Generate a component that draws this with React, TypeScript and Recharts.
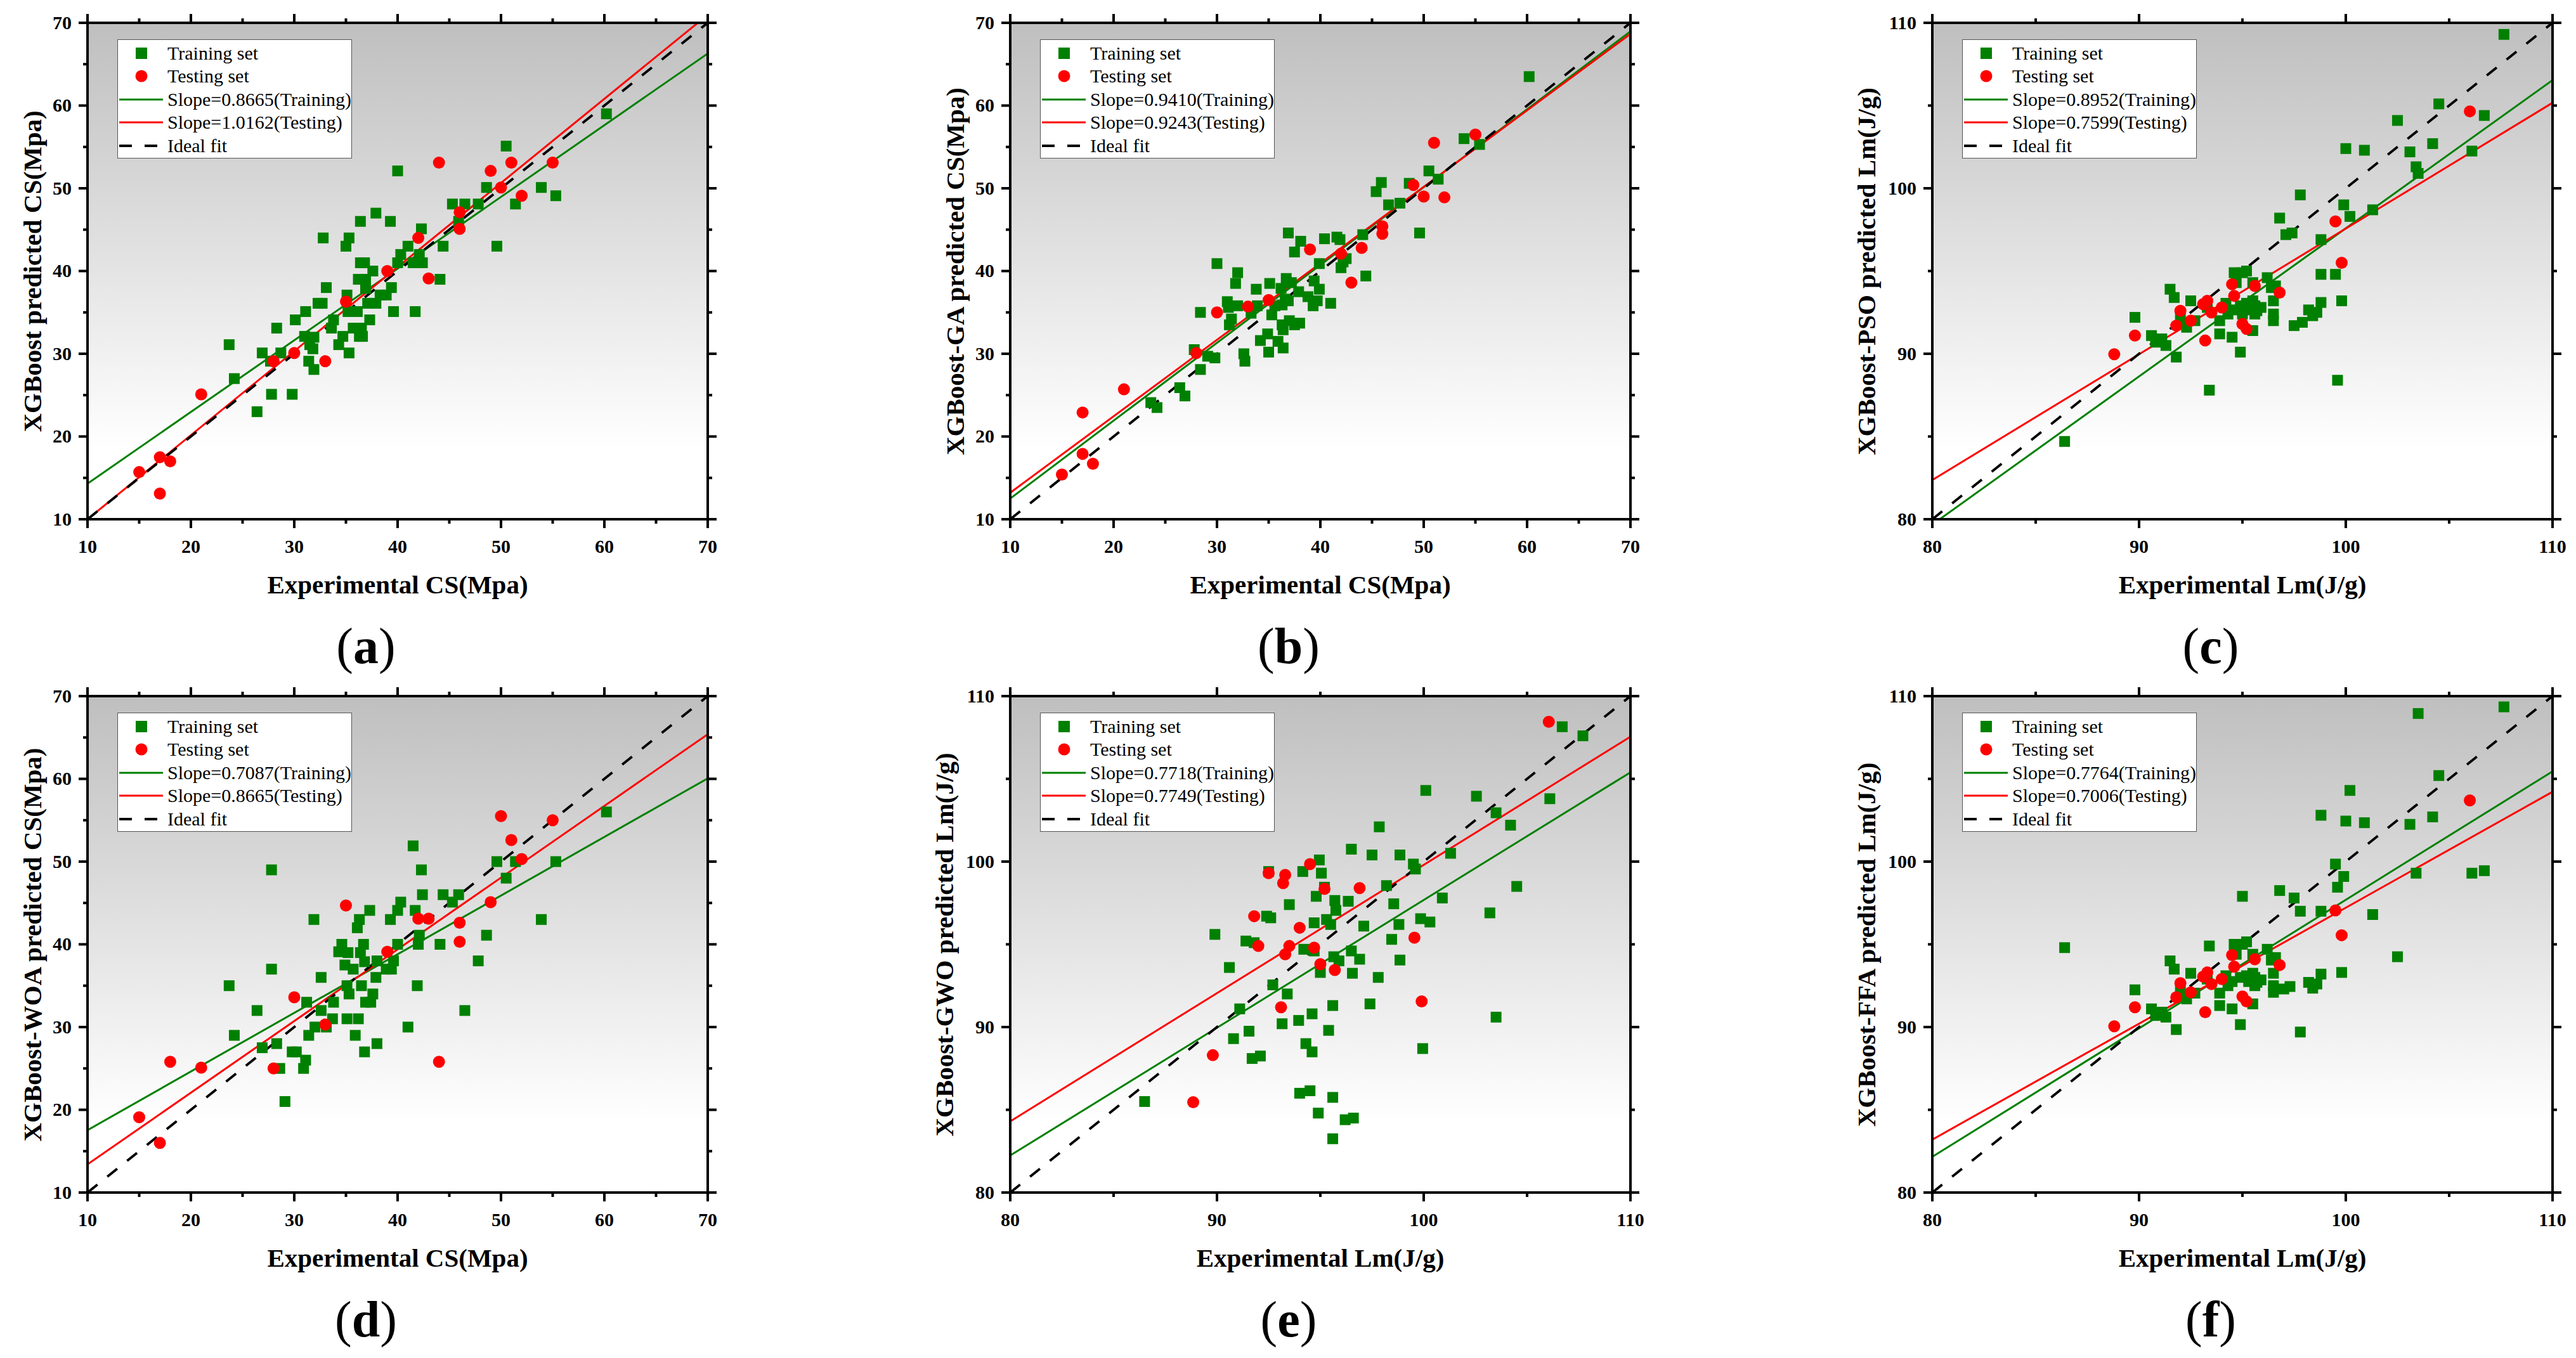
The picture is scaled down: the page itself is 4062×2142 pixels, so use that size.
import React from "react";
import { ComposedChart, Scatter, Line, XAxis, YAxis, CartesianGrid } from "recharts";

type Pt = [number, number];

const csTicks = [10, 15, 20, 25, 30, 35, 40, 45, 50, 55, 60, 65, 70];
const lmTicks = [80, 85, 90, 95, 100, 105, 110];

// (a) XGBoost
const trainA: Pt[] = [
  [23.7, 31.1], [24.2, 27.0], [26.4, 23.0], [26.9, 30.1], [27.8, 25.1], [27.7, 29.1], [28.3, 33.1], [28.7, 30.1],
  [29.8, 25.1], [30.1, 34.1], [31.0, 32.1], [31.1, 35.1], [31.4, 29.1], [31.5, 31.1], [31.8, 30.6], [31.9, 32.0],
  [31.9, 28.1], [32.3, 36.1], [32.7, 36.1], [32.8, 44.0], [33.1, 38.0], [33.6, 33.1], [33.8, 34.1], [34.3, 31.1],
  [34.7, 32.1], [35.0, 43.0], [35.3, 44.0], [35.1, 37.1], [35.3, 30.1], [35.2, 35.1], [35.7, 33.1], [36.1, 35.1],
  [36.2, 39.0], [36.3, 32.1], [36.4, 46.0], [36.4, 41.0], [36.5, 33.1], [36.6, 32.1], [36.8, 41.0], [36.9, 39.0],
  [36.9, 37.9], [37.1, 36.1], [37.3, 34.1], [37.6, 40.0], [37.9, 36.1], [37.9, 47.0], [38.3, 37.1], [38.9, 37.1],
  [39.3, 46.0], [39.4, 38.0], [39.6, 35.1], [40.0, 52.1], [40.0, 41.0], [40.3, 42.0], [41.0, 43.0], [41.5, 41.0],
  [41.7, 35.1], [42.1, 42.0], [42.3, 45.1], [42.4, 41.0], [44.1, 39.0], [44.4, 43.0], [45.3, 48.1], [45.9, 46.0],
  [46.5, 48.1], [47.8, 48.1], [48.6, 50.1], [49.6, 43.0], [50.5, 55.1], [51.4, 48.1], [53.9, 50.1], [55.3, 49.1],
  [60.2, 59.0],
];
const testA: Pt[] = [
  [15, 15.7], [17, 17.5], [17, 13.1], [18, 17.0], [21, 25.1], [28, 29.1], [30, 30.1], [33, 29.1], [35, 36.3],
  [39, 40.0], [42, 44.0], [43, 39.1], [44, 53.1], [46, 47.1], [46, 45.1], [49, 52.1], [50, 50.1], [51, 53.1],
  [52, 49.1], [55, 53.1],
];
const slopesA = [0.8665, 1.0162];
const startsA = [14.3, 10.0];

// (b) XGBoost-GA
const trainB: Pt[] = [
  [23.6, 24.1], [24.2, 23.5], [26.4, 25.9], [26.9, 24.9], [27.8, 30.5], [28.4, 35.0], [28.4, 28.1], [29.1, 29.7],
  [29.8, 29.5], [30.0, 40.9], [31.0, 36.3], [31.2, 33.5], [31.4, 34.2], [31.1, 35.6], [31.8, 38.5], [32.0, 39.8],
  [32.0, 35.8], [32.6, 30.0], [32.7, 29.1], [33.3, 34.9], [33.8, 37.8], [33.9, 35.8], [34.2, 31.6], [34.9, 32.4],
  [35.0, 30.2], [35.1, 38.5], [35.3, 34.7], [35.6, 35.8], [35.9, 31.5], [36.2, 37.9], [36.3, 35.9], [36.3, 33.5],
  [36.4, 32.9], [36.4, 30.7], [36.6, 36.6], [36.7, 39.1], [36.9, 44.6], [37.0, 34.0], [36.9, 36.4], [37.2, 38.6],
  [37.5, 42.3], [37.5, 33.5], [38.0, 33.7], [37.9, 37.5], [38.1, 43.6], [38.8, 36.9], [39.3, 35.8], [39.4, 38.8],
  [39.7, 36.4], [39.9, 37.8], [39.9, 40.9], [40.4, 43.9], [41.0, 36.1], [41.6, 44.1], [42.0, 40.4], [41.9, 43.8],
  [42.2, 41.1], [42.5, 41.5], [44.1, 44.4], [44.4, 39.4], [45.4, 49.6], [45.9, 50.7], [46.6, 48.0], [47.7, 48.2],
  [48.6, 50.6], [49.6, 44.6], [50.5, 52.1], [51.4, 51.1], [53.9, 56.0], [55.4, 55.3], [60.2, 63.5],
];
const testB: Pt[] = [
  [15, 15.4], [17, 22.9], [17, 17.9], [18, 16.7], [21, 25.7], [28, 30.1], [30, 35.0], [33, 35.7], [35, 36.5],
  [39, 42.6], [42, 42.1], [43, 38.6], [44, 42.8], [46, 45.4], [46, 44.5], [49, 50.4], [50, 49.0], [51, 55.5],
  [52, 48.9], [55, 56.5],
];
const slopesB = [0.941, 0.9243];
const startsB = [12.5, 13.2];

// (c) XGBoost-PSO
const trainC: Pt[] = [
  [86.4, 84.7], [89.8, 92.2], [90.6, 91.1], [90.8, 90.7], [91.1, 90.9], [91.3, 90.5], [91.5, 93.9], [91.7, 93.4],
  [91.8, 89.8], [92.0, 92.2], [92.3, 91.6], [92.5, 93.2], [92.7, 92.0], [93.4, 87.8], [93.3, 92.8], [93.9, 92.0],
  [93.9, 91.2], [94.2, 93.05], [94.3, 92.4], [94.5, 91.0], [94.5, 92.65], [94.6, 94.9], [94.7, 94.3], [94.9, 92.9],
  [94.9, 90.1], [95.0, 92.4], [95.0, 94.9], [95.2, 95.0], [95.2, 93.05], [95.3, 92.65], [95.4, 92.9], [95.5, 93.2],
  [95.5, 94.3], [95.5, 91.4], [95.6, 92.4], [95.6, 92.9], [95.7, 92.6], [95.9, 92.8], [96.2, 94.6], [96.4, 94.0],
  [96.5, 93.2], [96.5, 92.4], [96.5, 92.0], [96.6, 94.1], [96.8, 98.2], [97.1, 97.2], [97.4, 97.3], [97.5, 91.7],
  [97.8, 99.6], [97.9, 91.9], [98.2, 92.65], [98.4, 92.3], [98.6, 92.5], [98.8, 94.8], [98.8, 96.9], [98.8, 93.1],
  [99.5, 94.8], [99.6, 88.4], [99.8, 93.2], [99.9, 99.0], [100.0, 102.4], [100.2, 98.3], [100.9, 102.3],
  [101.3, 98.7], [102.5, 104.1], [103.1, 102.2], [103.4, 101.3], [103.5, 100.9], [104.2, 102.7], [104.5, 105.1],
  [106.1, 102.25], [106.7, 104.4], [107.65, 109.3],
];
const testC: Pt[] = [
  [88.8, 89.97], [89.8, 91.1], [91.8, 91.7], [92.0, 92.6], [92.5, 92.0], [93.1, 93.0], [93.3, 93.2], [93.2, 90.8],
  [93.5, 92.5], [94.0, 92.8], [94.5, 94.2], [94.6, 93.5], [95.0, 91.8], [95.2, 91.5], [95.6, 94.1], [96.8, 93.7],
  [99.5, 98.0], [99.8, 95.5], [106.0, 104.65],
];
const slopesC = [0.8952, 0.7599];
const startsC = [79.68, 82.37];

// (d) XGBoost-WOA
const trainD: Pt[] = [
  [23.7, 35.0], [24.2, 29.0], [26.4, 32.0], [26.9, 27.5], [27.8, 49.0], [27.8, 37.0], [28.3, 28.0], [28.6, 25.0],
  [29.1, 21.0], [29.8, 27.0], [30.2, 27.0], [30.9, 25.0], [31.1, 26.0], [31.2, 33.0], [31.4, 29.0], [31.9, 43.0],
  [32.0, 30.0], [32.6, 36.0], [32.6, 32.0], [33.1, 30.0], [33.7, 31.0], [33.8, 33.0], [34.3, 39.1], [34.6, 40.0],
  [34.9, 37.5], [35.1, 35.0], [35.1, 31.0], [35.2, 39.0], [35.3, 34.0], [35.7, 37.0], [35.9, 29.0], [36.1, 42.0],
  [36.2, 31.0], [36.3, 43.0], [36.4, 39.0], [36.5, 35.0], [36.7, 40.0], [36.8, 37.9], [36.8, 27.0], [36.9, 33.0],
  [37.3, 44.1], [37.4, 33.0], [37.6, 34.0], [37.9, 36.0], [38.0, 38.0], [38.0, 28.0], [38.9, 37.0], [39.3, 43.0],
  [39.4, 37.0], [39.6, 38.0], [40.0, 40.0], [40.0, 44.1], [40.3, 45.1], [41.0, 30.0], [41.5, 51.9], [41.7, 44.1],
  [41.9, 35.0], [42.0, 40.0], [42.1, 41.1], [42.3, 49.0], [42.4, 46.0], [44.1, 40.0], [44.4, 46.0], [45.3, 45.1],
  [45.9, 46.0], [46.5, 32.0], [47.8, 38.0], [48.6, 41.1], [49.6, 50.0], [50.5, 48.0], [51.4, 50.0], [53.9, 43.0],
  [55.3, 50.0], [60.2, 56.0],
];
const testD: Pt[] = [
  [15, 19.1], [17, 16.0], [18, 25.8], [21, 25.1], [28, 25.0], [30, 33.6], [33, 30.3], [35, 44.7], [39, 39.1],
  [42, 43.1], [43, 43.1], [44, 25.8], [46, 42.6], [46, 40.3], [49, 45.1], [50, 55.5], [51, 52.6], [52, 50.3],
  [55, 55.0],
];
const slopesD = [0.7087, 0.8665];
const startsD = [17.54, 13.4];

// (e) XGBoost-GWO
const trainE: Pt[] = [
  [86.5, 85.5], [89.9, 95.6], [90.6, 93.6], [90.8, 89.3], [91.1, 91.1], [91.4, 95.2], [91.55, 89.75], [91.7, 88.1],
  [91.8, 95.1], [92.1, 88.25], [92.4, 96.7], [92.5, 99.4], [92.6, 96.6], [92.7, 92.55], [93.15, 90.2], [93.4, 92.0],
  [93.5, 97.4], [93.95, 90.4], [94.0, 86.0], [94.15, 99.4], [94.2, 94.7], [94.3, 89.0], [94.5, 86.15], [94.6, 90.8],
  [94.6, 88.5], [94.7, 96.3], [94.7, 94.6], [94.8, 97.9], [94.9, 84.8], [94.95, 100.1], [95.0, 93.3], [95.05, 99.3],
  [95.2, 98.45], [95.3, 96.5], [95.4, 89.8], [95.5, 96.2], [95.6, 91.3], [95.6, 85.75], [95.6, 83.25], [95.65, 94.25],
  [95.7, 97.65], [95.75, 97.05], [95.9, 94.0], [96.2, 84.4], [96.35, 97.6], [96.5, 100.75], [96.5, 94.6],
  [96.55, 93.25], [96.6, 84.5], [96.9, 94.1], [97.1, 96.1], [97.4, 91.4], [97.5, 100.4], [97.8, 93.0],
  [97.85, 102.1], [98.2, 98.55], [98.45, 95.3], [98.55, 97.45], [98.8, 96.2], [98.85, 94.05], [98.85, 100.4],
  [99.5, 99.85], [99.6, 99.55], [99.85, 96.55], [99.95, 88.7], [100.1, 104.3], [100.3, 96.35], [100.9, 97.8],
  [101.3, 100.5], [102.55, 103.95], [103.2, 96.9], [103.5, 90.6], [103.5, 102.95], [104.2, 102.2], [104.5, 98.5],
  [106.1, 103.8], [106.7, 108.15], [107.7, 107.6],
];
const testE: Pt[] = [
  [88.85, 85.46], [89.8, 88.3], [91.8, 96.7], [92.0, 94.9], [92.5, 99.3], [93.1, 91.2], [93.2, 98.7], [93.3, 94.4],
  [93.3, 99.2], [93.5, 94.9], [94.0, 96.0], [94.5, 99.85], [94.7, 94.8], [95.0, 93.8], [95.2, 98.35], [95.7, 93.45],
  [96.9, 98.4], [99.55, 95.4], [99.9, 91.55], [106.05, 108.45],
];
const slopesE = [0.7718, 0.7749];
const startsE = [82.24, 84.3];

// (f) XGBoost-FFA
const trainF: Pt[] = [
  [86.4, 94.8], [89.8, 92.25], [90.6, 91.1], [90.8, 90.7], [91.1, 90.9], [91.3, 90.6], [91.5, 94.0], [91.7, 93.5],
  [91.8, 89.85], [92.0, 92.3], [92.3, 91.7], [92.5, 93.25], [92.7, 92.05], [93.4, 94.9], [93.3, 92.9], [93.9, 92.05],
  [93.9, 91.3], [94.2, 93.1], [94.3, 92.5], [94.5, 91.1], [94.5, 92.75], [94.6, 95.0], [94.7, 94.4], [94.9, 93.0],
  [94.9, 90.15], [95.0, 97.9], [95.0, 95.0], [95.2, 95.15], [95.2, 93.1], [95.3, 92.75], [95.4, 93.0], [95.5, 93.25],
  [95.5, 94.4], [95.5, 91.4], [95.6, 92.5], [95.6, 93.0], [95.7, 92.7], [95.9, 92.85], [96.2, 94.7], [96.4, 94.05],
  [96.5, 93.25], [96.5, 92.5], [96.5, 92.1], [96.6, 94.2], [96.8, 98.25], [97.0, 92.3], [97.3, 92.45], [97.5, 97.8],
  [97.8, 89.7], [97.8, 97.0], [98.2, 92.7], [98.4, 92.35], [98.6, 92.6], [98.8, 102.8], [98.8, 97.0], [98.8, 93.2],
  [99.5, 99.85], [99.6, 98.45], [99.8, 93.3], [99.9, 99.1], [100.0, 102.45], [100.2, 104.3], [100.9, 102.35],
  [101.3, 96.8], [102.5, 94.25], [103.1, 102.25], [103.4, 99.3], [103.5, 108.95], [104.2, 102.7], [104.5, 105.2],
  [106.1, 99.3], [106.7, 99.45], [107.65, 109.35],
];
const testF: Pt[] = [
  [88.8, 90.05], [89.8, 91.2], [91.8, 91.8], [92.0, 92.65], [92.5, 92.1], [93.1, 93.05], [93.3, 93.3], [93.2, 90.9],
  [93.5, 92.6], [94.0, 92.9], [94.5, 94.35], [94.6, 93.65], [95.0, 91.85], [95.2, 91.55], [95.6, 94.1], [96.8, 93.75],
  [99.5, 97.05], [99.8, 95.55], [106.0, 103.7],
];
const slopesF = [0.7764, 0.7006];
const startsF = [82.16, 83.2];

const GREEN = "#008000";
const RED = "#ff0000";
const FONT = "Liberation Serif, Times New Roman, serif";
const DASH = "20 20";

// chart geometry
const CH_W = 1144;
const CH_H = 1062;
const Y_W = 130;
const PLOT_W = 978;
const PLOT_T = 36;
const PLOT_H = 783;

type Side = "bottom" | "left" | "top" | "right";

function makeTick(side: Side, showLabel: boolean) {
  return (p: any) => {
    const v = p.payload.value;
    const major = Math.abs(v % 10) < 1e-6;
    const len = major ? 14 : 7;
    const { x, y } = p;
    const txt = { fill: "#000", fontFamily: FONT, fontWeight: 700, fontSize: 30, stroke: "none" };
    let line;
    let label = null;
    if (side === "bottom") {
      line = <line x1={x} y1={y} x2={x} y2={y + len} stroke="#000" strokeWidth={4} />;
      if (showLabel && major)
        label = (
          <text x={x} y={y + 43} dy="0.33em" textAnchor="middle" style={txt}>
            {v}
          </text>
        );
    } else if (side === "top") {
      line = <line x1={x} y1={y} x2={x} y2={y - len} stroke="#000" strokeWidth={4} />;
    } else if (side === "left") {
      line = <line x1={x} y1={y} x2={x - len} y2={y} stroke="#000" strokeWidth={4} />;
      if (showLabel && major)
        label = (
          <text x={x - 25} y={y} dy="0.33em" textAnchor="end" style={txt}>
            {v}
          </text>
        );
    } else {
      line = <line x1={x} y1={y} x2={x + len} y2={y} stroke="#000" strokeWidth={4} />;
    }
    return (
      <g>
        {line}
        {label}
      </g>
    );
  };
}

const squareShape = (p: any) => <rect x={p.cx - 8.5} y={p.cy - 8.5} width={17} height={17} fill={GREEN} />;
const dotShape = (p: any) => <circle cx={p.cx} cy={p.cy} r={9.5} fill={RED} />;

function Legend({ slopes }: { slopes: number[] }) {
  const rows = [22, 58, 95, 131, 168];
  const labels = [
    "Training set",
    "Testing set",
    `Slope=${slopes[0].toFixed(4)}(Training)`,
    `Slope=${slopes[1].toFixed(4)}(Testing)`,
    "Ideal fit",
  ];
  return (
    <div
      style={{
        position: "absolute",
        left: Y_W + 47,
        top: PLOT_T + 26,
        width: 370,
        height: 188,
        boxSizing: "border-box",
        border: "1.5px solid #555",
        background: "#fff",
        fontFamily: FONT,
        fontSize: 30,
      }}
    >
      <svg width={370} height={188} style={{ position: "absolute", left: -1.5, top: -1.5 }}>
        <rect x={29} y={rows[0] - 9} width={18} height={18} fill={GREEN} />
        <circle cx={38} cy={rows[1]} r={9.5} fill={RED} />
        <line x1={3} x2={72} y1={rows[2]} y2={rows[2]} stroke={GREEN} strokeWidth={3} />
        <line x1={3} x2={72} y1={rows[3]} y2={rows[3]} stroke={RED} strokeWidth={3} />
        <line x1={3} x2={72} y1={rows[4]} y2={rows[4]} stroke="#000" strokeWidth={4} strokeDasharray={DASH} />
      </svg>
      {labels.map((t, i) => (
        <div
          key={t}
          style={{
            position: "absolute",
            left: 78,
            top: rows[i] - 1.5,
            transform: "translateY(-50%)",
            lineHeight: 1,
            whiteSpace: "nowrap",
            color: "#000",
          }}
        >
          {t}
        </div>
      ))}
    </div>
  );
}

interface PanelProps {
  id: string;
  left: number;
  top: number;
  domain: [number, number];
  ticks: number[];
  xTitle: string;
  yTitle: string;
  yTitleOffset: number;
  train: Pt[];
  test: Pt[];
  slopes: number[];
  starts: number[];
}

function Panel(props: PanelProps) {
  const { id, left, top, domain, ticks, xTitle, yTitle, yTitleOffset, train, test, slopes, starts } = props;
  const [lo, hi] = domain;
  const fitLine = (k: number) => [
    { x: lo, y: starts[k] },
    { x: hi, y: starts[k] + slopes[k] * (hi - lo) },
  ];
  const ideal = [
    { x: lo, y: lo },
    { x: hi, y: hi },
  ];
  const plotCx = Y_W + PLOT_W / 2;
  const plotBottom = PLOT_T + PLOT_H;
  const axisLine = { stroke: "#000", strokeWidth: 4, strokeLinecap: "square" as const };
  return (
    <div style={{ position: "absolute", left, top, width: CH_W, height: CH_H }}>
      <ComposedChart width={CH_W} height={CH_H} margin={{ top: 16, right: 20, bottom: 143, left: 0 }}>
        <defs>
          <linearGradient id={`bg-${id}`} x1="0" y1="0" x2="0" y2="1">
            <stop offset="0%" stopColor="#bfbfbf" />
            <stop offset="86%" stopColor="#ffffff" />
            <stop offset="100%" stopColor="#ffffff" />
          </linearGradient>
        </defs>
        <CartesianGrid horizontal={false} vertical={false} fill={`url(#bg-${id})`} stroke="none" />
        <XAxis
          type="number"
          dataKey="x"
          domain={domain}
          ticks={ticks}
          interval={0}
          allowDataOverflow
          height={100}
          tickSize={0}
          tickMargin={0}
          tickLine={false}
          tick={makeTick("bottom", true)}
          axisLine={axisLine}
        />
        <XAxis
          xAxisId="top"
          orientation="top"
          type="number"
          dataKey="x"
          domain={domain}
          ticks={ticks}
          interval={0}
          allowDataOverflow
          height={20}
          tickSize={0}
          tickMargin={0}
          tickLine={false}
          tick={makeTick("top", false)}
          axisLine={axisLine}
        />
        <YAxis
          type="number"
          dataKey="y"
          domain={domain}
          ticks={ticks}
          interval={0}
          allowDataOverflow
          width={Y_W}
          tickSize={0}
          tickMargin={0}
          tickLine={false}
          tick={makeTick("left", true)}
          axisLine={axisLine}
        />
        <YAxis
          yAxisId="right"
          orientation="right"
          type="number"
          dataKey="y"
          domain={domain}
          ticks={ticks}
          interval={0}
          allowDataOverflow
          width={16}
          tickSize={0}
          tickMargin={0}
          tickLine={false}
          tick={makeTick("right", false)}
          axisLine={axisLine}
        />
        <Scatter
          name="Training set"
          data={train.map(([x, y]) => ({ x, y }))}
          dataKey="y"
          shape={squareShape}
          isAnimationActive={false}
        />
        <Scatter
          name="Testing set"
          data={test.map(([x, y]) => ({ x, y }))}
          dataKey="y"
          shape={dotShape}
          isAnimationActive={false}
        />
        <Line data={fitLine(0)} dataKey="y" stroke={GREEN} strokeWidth={3} dot={false} activeDot={false} isAnimationActive={false} />
        <Line data={fitLine(1)} dataKey="y" stroke={RED} strokeWidth={3} dot={false} activeDot={false} isAnimationActive={false} />
        <Line
          data={ideal}
          dataKey="y"
          stroke="#000"
          strokeWidth={4}
          strokeDasharray={DASH}
          dot={false}
          activeDot={false}
          isAnimationActive={false}
        />
      </ComposedChart>
      <Legend slopes={slopes} />
      <div
        style={{
          position: "absolute",
          left: Y_W - yTitleOffset,
          top: PLOT_T + PLOT_H / 2,
          transform: "translate(-50%, -50%) rotate(-90deg)",
          fontFamily: FONT,
          fontWeight: "bold",
          fontSize: 41,
          lineHeight: 1,
          whiteSpace: "nowrap",
        }}
      >
        {yTitle}
      </div>
      <div
        style={{
          position: "absolute",
          left: plotCx,
          top: plotBottom + 103,
          transform: "translate(-50%, -50%)",
          fontFamily: FONT,
          fontWeight: "bold",
          fontSize: 41,
          lineHeight: 1,
          whiteSpace: "nowrap",
        }}
      >
        {xTitle}
      </div>
      <div
        style={{
          position: "absolute",
          left: plotCx - 50,
          top: plotBottom + 200,
          transform: "translate(-50%, -50%)",
          fontFamily: FONT,
          fontSize: 80,
          lineHeight: 1,
          whiteSpace: "nowrap",
        }}
      >
        (<b>{id}</b>)
      </div>
    </div>
  );
}

export default function App() {
  const cs = "Experimental CS(Mpa)";
  const lm = "Experimental Lm(J/g)";
  return (
    <div
      style={{ position: "absolute", left: 0, top: 0, width: 4062, height: 2142, background: "#fff", overflow: "hidden" }}
    >
      <Panel id="a" left={8} top={0} domain={[10, 70]} ticks={csTicks} xTitle={cs} yTitle="XGBoost predicted CS(Mpa)"
        yTitleOffset={87} train={trainA} test={testA} slopes={slopesA} starts={startsA} />
      <Panel id="b" left={1463} top={0} domain={[10, 70]} ticks={csTicks} xTitle={cs} yTitle="XGBoost-GA predicted CS(Mpa)"
        yTitleOffset={87} train={trainB} test={testB} slopes={slopesB} starts={startsB} />
      <Panel id="c" left={2917} top={0} domain={[80, 110]} ticks={lmTicks} xTitle={lm} yTitle="XGBoost-PSO predicted Lm(J/g)"
        yTitleOffset={104} train={trainC} test={testC} slopes={slopesC} starts={startsC} />
      <Panel id="d" left={8} top={1062} domain={[10, 70]} ticks={csTicks} xTitle={cs} yTitle="XGBoost-WOA predicted CS(Mpa)"
        yTitleOffset={87} train={trainD} test={testD} slopes={slopesD} starts={startsD} />
      <Panel id="e" left={1463} top={1062} domain={[80, 110]} ticks={lmTicks} xTitle={lm} yTitle="XGBoost-GWO predicted Lm(J/g)"
        yTitleOffset={104} train={trainE} test={testE} slopes={slopesE} starts={startsE} />
      <Panel id="f" left={2917} top={1062} domain={[80, 110]} ticks={lmTicks} xTitle={lm} yTitle="XGBoost-FFA predicted Lm(J/g)"
        yTitleOffset={104} train={trainF} test={testF} slopes={slopesF} starts={startsF} />
    </div>
  );
}
